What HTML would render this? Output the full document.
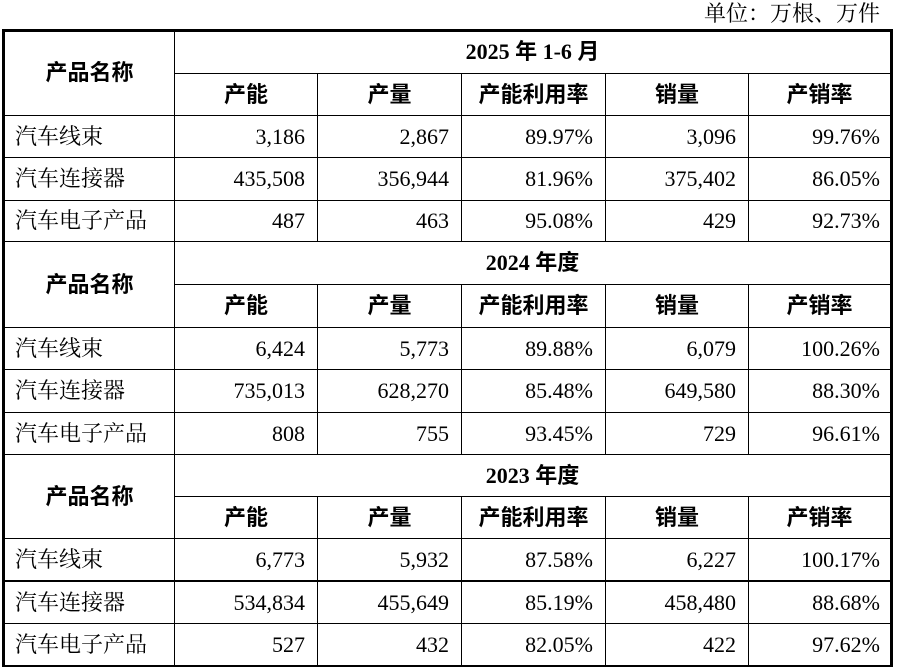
<!DOCTYPE html>
<html><head><meta charset="utf-8">
<style>
html,body{margin:0;padding:0;background:#fff;}
body{width:897px;height:668px;position:relative;overflow:hidden;}
.l{position:absolute;background:#000;}
.t{position:absolute;white-space:nowrap;color:#000;}
.d{font-family:"Liberation Serif","Noto Serif CJK SC",serif;font-size:22px;}
.h{font-family:"Liberation Serif","Noto Sans CJK SC",sans-serif;font-size:22px;font-weight:bold;text-align:center;}
.r{text-align:right;}
</style></head><body>
<div class="t d" style="left:600px;top:0;width:280px;height:28px;line-height:28px;text-align:right;font-size:22px;">单位：万根、万件</div>

<!-- outer borders -->
<div class="l" style="left:2px;top:29px;width:891px;height:3px;"></div>
<div class="l" style="left:2px;top:29px;width:3px;height:638px;"></div>
<div class="l" style="left:890px;top:29px;width:3px;height:638px;"></div>
<div class="l" style="left:2px;top:665px;width:891px;height:2px;"></div>

<!-- vertical lines -->
<div class="l" style="left:174px;top:30px;width:1px;height:636px;"></div>
<div class="l" style="left:317px;top:73px;width:1px;height:168px;"></div>
<div class="l" style="left:461px;top:73px;width:1px;height:168px;"></div>
<div class="l" style="left:605px;top:73px;width:1px;height:168px;"></div>
<div class="l" style="left:748px;top:73px;width:1px;height:168px;"></div>
<div class="l" style="left:317px;top:284px;width:1px;height:170px;"></div>
<div class="l" style="left:461px;top:284px;width:1px;height:170px;"></div>
<div class="l" style="left:605px;top:284px;width:1px;height:170px;"></div>
<div class="l" style="left:748px;top:284px;width:1px;height:170px;"></div>
<div class="l" style="left:317px;top:496px;width:1px;height:170px;"></div>
<div class="l" style="left:461px;top:496px;width:1px;height:170px;"></div>
<div class="l" style="left:605px;top:496px;width:1px;height:170px;"></div>
<div class="l" style="left:748px;top:496px;width:1px;height:170px;"></div>

<!-- horizontal lines -->
<div class="l" style="left:174px;top:73px;width:717px;height:1px;"></div>
<div class="l" style="left:4px;top:115px;width:887px;height:1px;"></div>
<div class="l" style="left:4px;top:157px;width:887px;height:1px;"></div>
<div class="l" style="left:4px;top:200px;width:887px;height:1px;"></div>
<div class="l" style="left:4px;top:241px;width:887px;height:1px;"></div>
<div class="l" style="left:174px;top:284px;width:717px;height:1px;"></div>
<div class="l" style="left:4px;top:327px;width:887px;height:1px;"></div>
<div class="l" style="left:4px;top:369px;width:887px;height:1px;"></div>
<div class="l" style="left:4px;top:412px;width:887px;height:1px;"></div>
<div class="l" style="left:4px;top:454px;width:887px;height:1px;"></div>
<div class="l" style="left:174px;top:496px;width:717px;height:1px;"></div>
<div class="l" style="left:4px;top:538px;width:887px;height:1px;"></div>
<div class="l" style="left:4px;top:580px;width:887px;height:2px;"></div>
<div class="l" style="left:4px;top:623px;width:887px;height:1px;"></div>

<!-- Section 1 -->
<div class="t h" style="left:5px;top:30px;width:169px;height:85px;line-height:85px;">产品名称</div>
<div class="t h" style="left:175px;top:31px;width:715px;height:42px;line-height:42px;">2025 年 1-6 月</div>
<div class="t h" style="left:175px;top:74px;width:142px;height:41px;line-height:41px;">产能</div>
<div class="t h" style="left:318px;top:74px;width:143px;height:41px;line-height:41px;">产量</div>
<div class="t h" style="left:462px;top:74px;width:143px;height:41px;line-height:41px;">产能利用率</div>
<div class="t h" style="left:606px;top:74px;width:142px;height:41px;line-height:41px;">销量</div>
<div class="t h" style="left:749px;top:74px;width:141px;height:41px;line-height:41px;">产销率</div>

<div class="t d" style="left:15px;top:116px;height:41px;line-height:41px;">汽车线束</div>
<div class="t d r" style="left:175px;top:116px;width:130px;height:41px;line-height:41px;">3,186</div>
<div class="t d r" style="left:318px;top:116px;width:131px;height:41px;line-height:41px;">2,867</div>
<div class="t d r" style="left:462px;top:116px;width:131px;height:41px;line-height:41px;">89.97%</div>
<div class="t d r" style="left:606px;top:116px;width:130px;height:41px;line-height:41px;">3,096</div>
<div class="t d r" style="left:749px;top:116px;width:131px;height:41px;line-height:41px;">99.76%</div>

<div class="t d" style="left:15px;top:158px;height:42px;line-height:42px;">汽车连接器</div>
<div class="t d r" style="left:175px;top:158px;width:130px;height:42px;line-height:42px;">435,508</div>
<div class="t d r" style="left:318px;top:158px;width:131px;height:42px;line-height:42px;">356,944</div>
<div class="t d r" style="left:462px;top:158px;width:131px;height:42px;line-height:42px;">81.96%</div>
<div class="t d r" style="left:606px;top:158px;width:130px;height:42px;line-height:42px;">375,402</div>
<div class="t d r" style="left:749px;top:158px;width:131px;height:42px;line-height:42px;">86.05%</div>

<div class="t d" style="left:15px;top:201px;height:40px;line-height:40px;">汽车电子产品</div>
<div class="t d r" style="left:175px;top:201px;width:130px;height:40px;line-height:40px;">487</div>
<div class="t d r" style="left:318px;top:201px;width:131px;height:40px;line-height:40px;">463</div>
<div class="t d r" style="left:462px;top:201px;width:131px;height:40px;line-height:40px;">95.08%</div>
<div class="t d r" style="left:606px;top:201px;width:130px;height:40px;line-height:40px;">429</div>
<div class="t d r" style="left:749px;top:201px;width:131px;height:40px;line-height:40px;">92.73%</div>

<!-- Section 2 -->
<div class="t h" style="left:5px;top:242px;width:169px;height:85px;line-height:85px;">产品名称</div>
<div class="t h" style="left:175px;top:242px;width:715px;height:42px;line-height:42px;">2024 年度</div>
<div class="t h" style="left:175px;top:285px;width:142px;height:42px;line-height:42px;">产能</div>
<div class="t h" style="left:318px;top:285px;width:143px;height:42px;line-height:42px;">产量</div>
<div class="t h" style="left:462px;top:285px;width:143px;height:42px;line-height:42px;">产能利用率</div>
<div class="t h" style="left:606px;top:285px;width:142px;height:42px;line-height:42px;">销量</div>
<div class="t h" style="left:749px;top:285px;width:141px;height:42px;line-height:42px;">产销率</div>

<div class="t d" style="left:15px;top:328px;height:41px;line-height:41px;">汽车线束</div>
<div class="t d r" style="left:175px;top:328px;width:130px;height:41px;line-height:41px;">6,424</div>
<div class="t d r" style="left:318px;top:328px;width:131px;height:41px;line-height:41px;">5,773</div>
<div class="t d r" style="left:462px;top:328px;width:131px;height:41px;line-height:41px;">89.88%</div>
<div class="t d r" style="left:606px;top:328px;width:130px;height:41px;line-height:41px;">6,079</div>
<div class="t d r" style="left:749px;top:328px;width:131px;height:41px;line-height:41px;">100.26%</div>

<div class="t d" style="left:15px;top:370px;height:42px;line-height:42px;">汽车连接器</div>
<div class="t d r" style="left:175px;top:370px;width:130px;height:42px;line-height:42px;">735,013</div>
<div class="t d r" style="left:318px;top:370px;width:131px;height:42px;line-height:42px;">628,270</div>
<div class="t d r" style="left:462px;top:370px;width:131px;height:42px;line-height:42px;">85.48%</div>
<div class="t d r" style="left:606px;top:370px;width:130px;height:42px;line-height:42px;">649,580</div>
<div class="t d r" style="left:749px;top:370px;width:131px;height:42px;line-height:42px;">88.30%</div>

<div class="t d" style="left:15px;top:413px;height:41px;line-height:41px;">汽车电子产品</div>
<div class="t d r" style="left:175px;top:413px;width:130px;height:41px;line-height:41px;">808</div>
<div class="t d r" style="left:318px;top:413px;width:131px;height:41px;line-height:41px;">755</div>
<div class="t d r" style="left:462px;top:413px;width:131px;height:41px;line-height:41px;">93.45%</div>
<div class="t d r" style="left:606px;top:413px;width:130px;height:41px;line-height:41px;">729</div>
<div class="t d r" style="left:749px;top:413px;width:131px;height:41px;line-height:41px;">96.61%</div>

<!-- Section 3 -->
<div class="t h" style="left:5px;top:455px;width:169px;height:83px;line-height:83px;">产品名称</div>
<div class="t h" style="left:175px;top:455px;width:715px;height:41px;line-height:41px;">2023 年度</div>
<div class="t h" style="left:175px;top:497px;width:142px;height:41px;line-height:41px;">产能</div>
<div class="t h" style="left:318px;top:497px;width:143px;height:41px;line-height:41px;">产量</div>
<div class="t h" style="left:462px;top:497px;width:143px;height:41px;line-height:41px;">产能利用率</div>
<div class="t h" style="left:606px;top:497px;width:142px;height:41px;line-height:41px;">销量</div>
<div class="t h" style="left:749px;top:497px;width:141px;height:41px;line-height:41px;">产销率</div>

<div class="t d" style="left:15px;top:539px;height:41px;line-height:41px;">汽车线束</div>
<div class="t d r" style="left:175px;top:539px;width:130px;height:41px;line-height:41px;">6,773</div>
<div class="t d r" style="left:318px;top:539px;width:131px;height:41px;line-height:41px;">5,932</div>
<div class="t d r" style="left:462px;top:539px;width:131px;height:41px;line-height:41px;">87.58%</div>
<div class="t d r" style="left:606px;top:539px;width:130px;height:41px;line-height:41px;">6,227</div>
<div class="t d r" style="left:749px;top:539px;width:131px;height:41px;line-height:41px;">100.17%</div>

<div class="t d" style="left:15px;top:582px;height:41px;line-height:41px;">汽车连接器</div>
<div class="t d r" style="left:175px;top:582px;width:130px;height:41px;line-height:41px;">534,834</div>
<div class="t d r" style="left:318px;top:582px;width:131px;height:41px;line-height:41px;">455,649</div>
<div class="t d r" style="left:462px;top:582px;width:131px;height:41px;line-height:41px;">85.19%</div>
<div class="t d r" style="left:606px;top:582px;width:130px;height:41px;line-height:41px;">458,480</div>
<div class="t d r" style="left:749px;top:582px;width:131px;height:41px;line-height:41px;">88.68%</div>

<div class="t d" style="left:15px;top:624px;height:41px;line-height:41px;">汽车电子产品</div>
<div class="t d r" style="left:175px;top:624px;width:130px;height:41px;line-height:41px;">527</div>
<div class="t d r" style="left:318px;top:624px;width:131px;height:41px;line-height:41px;">432</div>
<div class="t d r" style="left:462px;top:624px;width:131px;height:41px;line-height:41px;">82.05%</div>
<div class="t d r" style="left:606px;top:624px;width:130px;height:41px;line-height:41px;">422</div>
<div class="t d r" style="left:749px;top:624px;width:131px;height:41px;line-height:41px;">97.62%</div>
</body></html>
